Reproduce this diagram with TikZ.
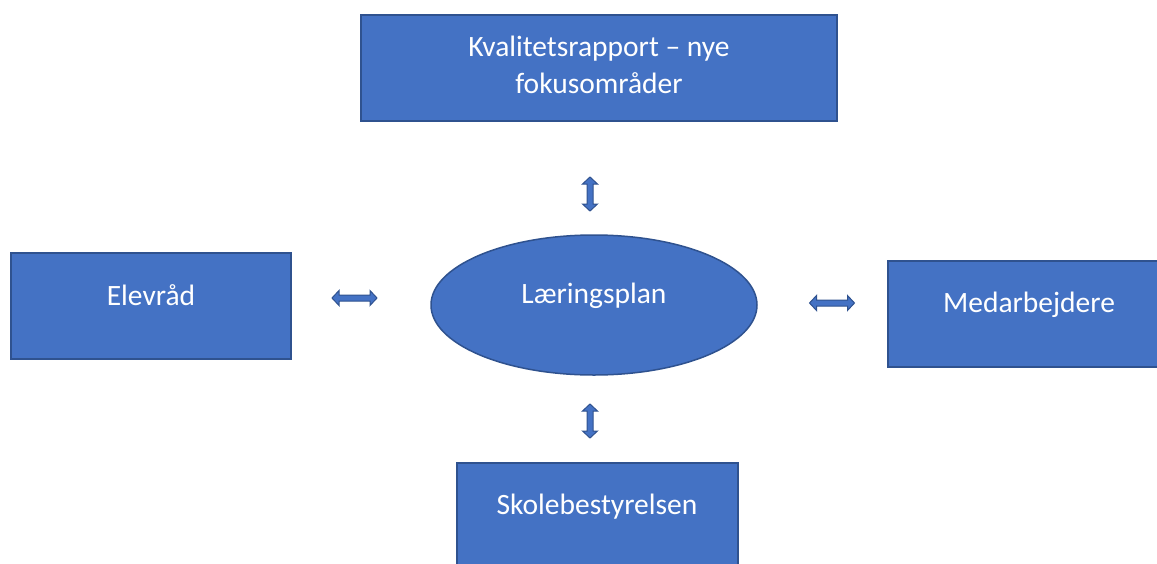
\documentclass[tikz,border=0pt]{standalone}
\usepackage{fontspec}
\setmainfont{Carlito}
\usetikzlibrary{shapes.geometric}
\definecolor{boxfill}{HTML}{4472C4}
\definecolor{boxline}{HTML}{2F528F}
\tikzset{
  box/.style={draw=boxline, fill=boxfill, line width=1.5pt, inner sep=0pt},
  lbl/.style={text=white, font=\fontsize{29.5}{36}\selectfont, inner sep=0pt, text height=18.5pt, text depth=0pt},
  arrowshape/.style={draw=boxline, fill=boxfill, line width=1pt, line join=miter},
  pics/darr/.style={code={
    \path[arrowshape] (-#1,0) -- (-#1+7,-7.5) -- (-#1+7,-3) -- (#1-7,-3) -- (#1-7,-7.5) -- (#1,0)
      -- (#1-7,7.5) -- (#1-7,3) -- (-#1+7,3) -- (-#1+7,7.5) -- cycle;
  }}
}
\begin{document}
\begin{tikzpicture}[x=1pt,y=-1pt]
\useasboundingbox (0,0) rectangle (1157,563);
% boxes
\node[box, minimum width=476pt, minimum height=106pt] (kval) at (599,68) {};
\node[lbl] (kvalA) at (599,47) {Kvalitetsrapport – nye};
\node[lbl] (kvalB) at (599,84) {fokusområder};
\node[box, minimum width=280pt, minimum height=106pt] (elev) at (151,306) {};
\node[lbl] (elevT) at (151,296) {Elevråd};
\node[box, minimum width=272pt, minimum height=106pt] (med) at (1024,314) {};
\node[lbl] (medT) at (1029,303) {Medarbejdere};
\node[box, minimum width=281pt, minimum height=110pt] (skole) at (597.5,518) {};
\node[lbl] (skoleT) at (597,505) {Skolebestyrelsen};
\node[box, ellipse, minimum width=326pt, minimum height=140pt] (laer) at (594,305) {};
\node[lbl] (laerT) at (594,294) {Læringsplan};
% arrows
\pic[rotate=90] (aTop) at (590,194) {darr=17};
\pic (aLeft) at (354.5,298) {darr=22.5};
\pic (aRight) at (832,303) {darr=22.5};
\pic[rotate=90] (aBot) at (590,421) {darr=17};
\end{tikzpicture}
\end{document}
